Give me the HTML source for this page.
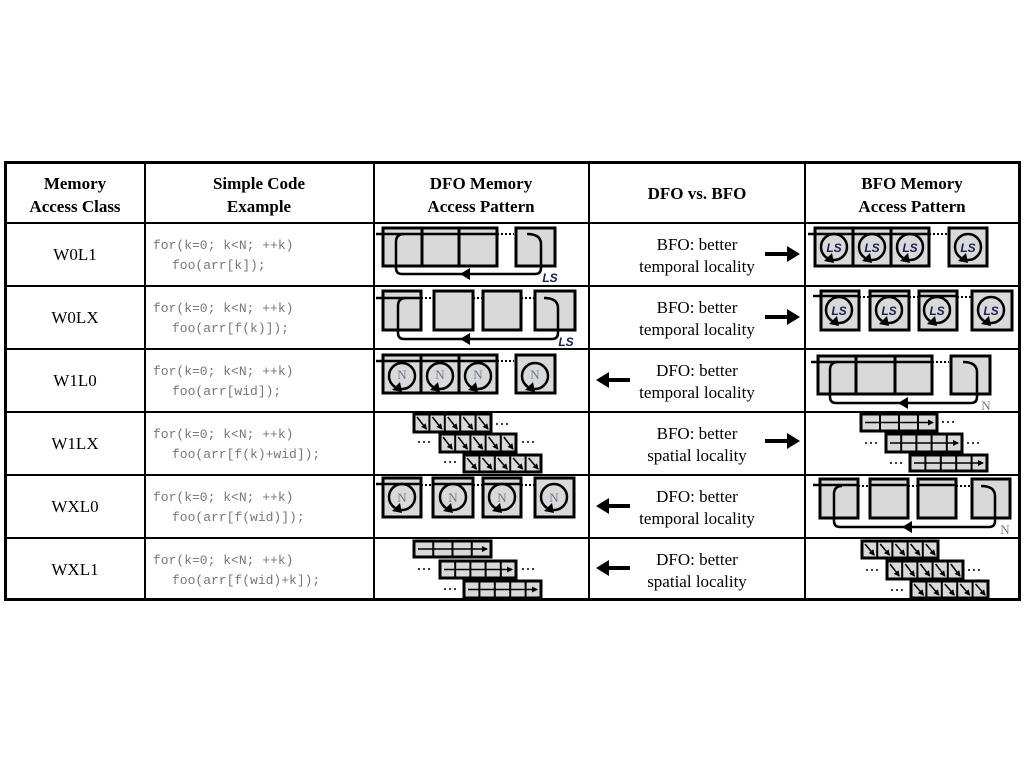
<!DOCTYPE html>
<html><head><meta charset="utf-8"><style>
html,body{margin:0;padding:0;background:#fff;}
svg{display:block;}
.h{font-family:"Liberation Serif",serif;font-weight:bold;font-size:17px;text-anchor:middle;fill:#000;}
.t{font-family:"Liberation Serif",serif;font-size:17px;text-anchor:middle;fill:#000;}
.c{font-family:"Liberation Mono",monospace;font-size:13px;fill:#777;}
.ls{font-family:"Liberation Sans",sans-serif;font-style:italic;font-weight:bold;font-size:12px;fill:#1a2050;text-anchor:middle;}
.n{font-family:"Liberation Serif",serif;font-size:13px;fill:#6a7a90;text-anchor:middle;}
</style></head><body>
<svg id="s" width="1024" height="768" xmlns="http://www.w3.org/2000/svg">
<defs>
<marker id="ah" markerWidth="6" markerHeight="6" refX="5" refY="3" orient="auto" markerUnits="userSpaceOnUse"><path d="M0,0 L6,3 L0,6z" fill="#000"/></marker>
</defs>
<rect x="0" y="0" width="1024" height="768" fill="#fff"/>
<g id="shapes"></g>
<!-- grid -->
<g stroke="#000" fill="none">
<rect x="5.5" y="162.5" width="1014" height="437" stroke-width="3"/>
<line x1="145" y1="162" x2="145" y2="600" stroke-width="2"/>
<line x1="374" y1="162" x2="374" y2="600" stroke-width="2"/>
<line x1="589" y1="162" x2="589" y2="600" stroke-width="2"/>
<line x1="805" y1="162" x2="805" y2="600" stroke-width="2"/>
<line x1="5" y1="223" x2="1020" y2="223" stroke-width="2"/>
<line x1="5" y1="286" x2="1020" y2="286" stroke-width="2"/>
<line x1="5" y1="349" x2="1020" y2="349" stroke-width="2"/>
<line x1="5" y1="412" x2="1020" y2="412" stroke-width="2"/>
<line x1="5" y1="475" x2="1020" y2="475" stroke-width="2"/>
<line x1="5" y1="538" x2="1020" y2="538" stroke-width="2"/>
</g>
<!-- headers -->
<text class="h" x="75" y="189">Memory</text><text class="h" x="75" y="212">Access Class</text>
<text class="h" x="259" y="189">Simple Code</text><text class="h" x="259" y="212">Example</text>
<text class="h" x="481" y="189">DFO Memory</text><text class="h" x="481" y="212">Access Pattern</text>
<text class="h" x="697" y="199">DFO vs. BFO</text>
<text class="h" x="912" y="189">BFO Memory</text><text class="h" x="912" y="212">Access Pattern</text>
<!-- col1 -->
<text class="t" x="75" y="260">W0L1</text>
<text class="t" x="75" y="323">W0LX</text>
<text class="t" x="75" y="386">W1L0</text>
<text class="t" x="75" y="449">W1LX</text>
<text class="t" x="75" y="512">WXL0</text>
<text class="t" x="75" y="575">WXL1</text>
<!-- code -->
<text class="c" x="153" y="249">for(k=0; k&lt;N; ++k)</text><text class="c" x="172" y="269">foo(arr[k]);</text>
<text class="c" x="153" y="312">for(k=0; k&lt;N; ++k)</text><text class="c" x="172" y="332">foo(arr[f(k)]);</text>
<text class="c" x="153" y="375">for(k=0; k&lt;N; ++k)</text><text class="c" x="172" y="395">foo(arr[wid]);</text>
<text class="c" x="153" y="438">for(k=0; k&lt;N; ++k)</text><text class="c" x="172" y="458">foo(arr[f(k)+wid]);</text>
<text class="c" x="153" y="501">for(k=0; k&lt;N; ++k)</text><text class="c" x="172" y="521">foo(arr[f(wid)]);</text>
<text class="c" x="153" y="564">for(k=0; k&lt;N; ++k)</text><text class="c" x="172" y="584">foo(arr[f(wid)+k]);</text>
<!-- middle -->
<text class="t" x="697" y="250">BFO: better</text><text class="t" x="697" y="272">temporal locality</text>
<text class="t" x="697" y="313">BFO: better</text><text class="t" x="697" y="335">temporal locality</text>
<text class="t" x="697" y="376">DFO: better</text><text class="t" x="697" y="398">temporal locality</text>
<text class="t" x="697" y="439">BFO: better</text><text class="t" x="697" y="461">spatial locality</text>
<text class="t" x="697" y="502">DFO: better</text><text class="t" x="697" y="524">temporal locality</text>
<text class="t" x="697" y="565">DFO: better</text><text class="t" x="697" y="587">spatial locality</text>
<!-- labels in diagrams -->
<text class="ls" x="550" y="282">LS</text>
<text class="ls" x="566" y="346">LS</text>
<text class="n" x="986" y="410">N</text>
<text class="n" x="1005" y="534">N</text>
<text class="ls" x="834" y="252">LS</text><text class="ls" x="872" y="252">LS</text><text class="ls" x="910" y="252">LS</text><text class="ls" x="968" y="252">LS</text>
<text class="ls" x="839" y="315">LS</text><text class="ls" x="889" y="315">LS</text><text class="ls" x="937" y="315">LS</text><text class="ls" x="991" y="315">LS</text>
<text class="n" x="402" y="379">N</text><text class="n" x="440" y="379">N</text><text class="n" x="478" y="379">N</text><text class="n" x="535" y="379">N</text>
<text class="n" x="402" y="502">N</text><text class="n" x="453" y="502">N</text><text class="n" x="502" y="502">N</text><text class="n" x="554" y="502">N</text>
</svg>
<script>
var g=document.getElementById('shapes'),NS='http://www.w3.org/2000/svg';
function el(t,a){var e=document.createElementNS(NS,t);for(var k in a)e.setAttribute(k,a[k]);g.appendChild(e);return e;}
function box(x0,x1,y0,y1,sw){el('rect',{x:x0,y:y0,width:x1-x0,height:y1-y0,fill:'#d9d9d9',stroke:'#000','stroke-width':sw||3});}
function dots(x0,x1,y){el('line',{x1:x0,y1:y,x2:x1,y2:y,stroke:'#000','stroke-width':2,'stroke-dasharray':'2,2'});}
function hl(x0,x1,y){el('line',{x1:x0,y1:y,x2:x1,y2:y,stroke:'#000','stroke-width':2.5});}
function loop(L,R,top,B,ax){
 el('path',{d:'M'+(R-14)+','+top+' Q'+R+','+top+' '+R+','+(top+10)+' L'+R+','+(B-6)+' Q'+R+','+B+' '+(R-6)+','+B+' L'+(L+6)+','+B+' Q'+L+','+B+' '+L+','+(B-6)+' L'+L+','+(top+8)+' Q'+L+','+top+' '+(L+8)+','+top,fill:'none',stroke:'#000','stroke-width':2.5});
 el('path',{d:'M'+ax+','+(B-6)+' L'+(ax-10)+','+B+' L'+ax+','+(B+6)+'z',fill:'#000'});
}
function circ(cx,cy,r){
 el('circle',{cx:cx,cy:cy,r:r,fill:'none',stroke:'#000','stroke-width':2.5});
 var ax=cx-3,ay=cy+r;
 el('path',{d:'M'+(ax+1)+','+(ay-7)+' L'+(ax-7)+','+(ay+1)+' L'+(ax+3)+','+(ay+3)+'z',fill:'#000'});
}
function bigArrow(x0,x1,y){var d=x1>x0?1:-1;
 el('line',{x1:x0,y1:y,x2:x1-d*10,y2:y,stroke:'#000','stroke-width':4});
 el('path',{d:'M'+x1+','+y+' L'+(x1-d*13)+','+(y-8)+' L'+(x1-d*13)+','+(y+8)+'z',fill:'#000'});}
function cells(x0,y0,w,h,n,sw){box(x0,x0+w,y0,y0+h,sw||3);var cw=w/n;for(var i=1;i<n;i++)el('line',{x1:x0+i*cw,y1:y0,x2:x0+i*cw,y2:y0+h,stroke:'#000','stroke-width':2});return cw;}
function diag(x0,y0,w,h,n){var cw=cells(x0,y0,w,h,n);for(var i=0;i<n;i++){var cx=x0+i*cw;el('line',{x1:cx+3,y1:y0+3,x2:cx+cw-3,y2:y0+h-3,stroke:'#000','stroke-width':1.5,'marker-end':'url(#ah)'});}}
function horiz(x0,y0,w,h,n){cells(x0,y0,w,h,n);el('line',{x1:x0+4,y1:y0+h/2,x2:x0+w-4,y2:y0+h/2,stroke:'#000','stroke-width':1.5,'marker-end':'url(#ah)'});}
function dtxt(x,y){for(var i=0;i<3;i++)el('circle',{cx:x+i*5,cy:y,r:1,fill:'#000'});}

/* Row1 DFO */
box(383,497,228,266);el('line',{x1:422,y1:228,x2:422,y2:266,stroke:'#000','stroke-width':3});el('line',{x1:459,y1:228,x2:459,y2:266,stroke:'#000','stroke-width':3});
box(516,555,228,266);hl(376,497,234);dots(497,514,234);loop(396,541,234,274,470);
/* Row2 DFO */
[[383,421],[434,473],[483,521],[535,575]].forEach(function(b){box(b[0],b[1],291,330);});
hl(376,420,298);dots(421,434,298);dots(473,483,298);dots(521,535,298);loop(398,558,298,339,470);
/* Row1 BFO */
box(815,929,228,266);el('line',{x1:853,y1:228,x2:853,y2:266,stroke:'#000','stroke-width':3});el('line',{x1:891,y1:228,x2:891,y2:266,stroke:'#000','stroke-width':3});
box(949,987,228,266);hl(808,929,234);dots(929,947,234);
[834,872,910,968].forEach(function(x){circ(x,247,13);});
/* Row2 BFO */
[[821,859],[870,909],[919,957],[972,1012]].forEach(function(b){box(b[0],b[1],291,330);});
hl(813,859,296);hl(870,909,296);hl(919,957,296);dots(859,870,297);dots(909,919,297);dots(957,972,297);
[839,889,937,991].forEach(function(x){circ(x,310,13);});
/* Row3 DFO */
box(383,497,355,393);el('line',{x1:421,y1:355,x2:421,y2:393,stroke:'#000','stroke-width':3});el('line',{x1:459,y1:355,x2:459,y2:393,stroke:'#000','stroke-width':3});
box(516,555,355,393);hl(376,497,361);dots(497,514,361);
[402,440,478,535].forEach(function(x){circ(x,376,13);});
/* Row3 BFO */
box(818,932,356,394);el('line',{x1:856,y1:356,x2:856,y2:394,stroke:'#000','stroke-width':3});el('line',{x1:895,y1:356,x2:895,y2:394,stroke:'#000','stroke-width':3});
box(951,990,356,394);hl(811,932,362);dots(932,949,362);loop(830,977,362,403,908);
/* Row4 DFO */
diag(414,414,77,18,5);diag(440,434,76,18,5);diag(464,455,77,17,5);
dtxt(497,424);dtxt(419,442);dtxt(523,442);dtxt(445,462);
/* Row4 BFO */
horiz(861,414,76,17,4);horiz(886,434,76,18,5);horiz(910,455,77,16,5);
dtxt(943,422);dtxt(866,443);dtxt(968,443);dtxt(891,463);
/* Row5 DFO */
[[383,421],[433,473],[483,521],[535,574]].forEach(function(b){box(b[0],b[1],478,517);});
hl(376,420,484);hl(433,473,484);hl(483,521,484);dots(421,433,485);dots(473,483,485);dots(521,535,485);
[402,453,502,554].forEach(function(x){circ(x,497,13);});
/* Row5 BFO */
[[820,858],[870,908],[918,956],[972,1010]].forEach(function(b){box(b[0],b[1],479,518);});
hl(813,858,485);hl(870,908,485);hl(918,956,485);dots(858,870,486);dots(908,918,486);dots(956,972,486);
loop(834,995,486,527,912);
/* Row6 DFO */
horiz(414,541,77,16,4);horiz(440,561,76,17,5);horiz(464,581,77,17,5);
dtxt(419,569);dtxt(523,569);dtxt(445,589);
/* Row6 BFO */
diag(862,541,76,17,5);diag(887,561,76,18,5);diag(911,581,77,17,5);
dtxt(867,570);dtxt(969,570);dtxt(892,590);
/* big arrows */
bigArrow(765,800,254);bigArrow(765,800,317);bigArrow(630,596,380);bigArrow(765,800,441);bigArrow(630,596,506);bigArrow(630,596,568);
/* bring text to front: shapes group is before text already */
</script>
</body></html>
